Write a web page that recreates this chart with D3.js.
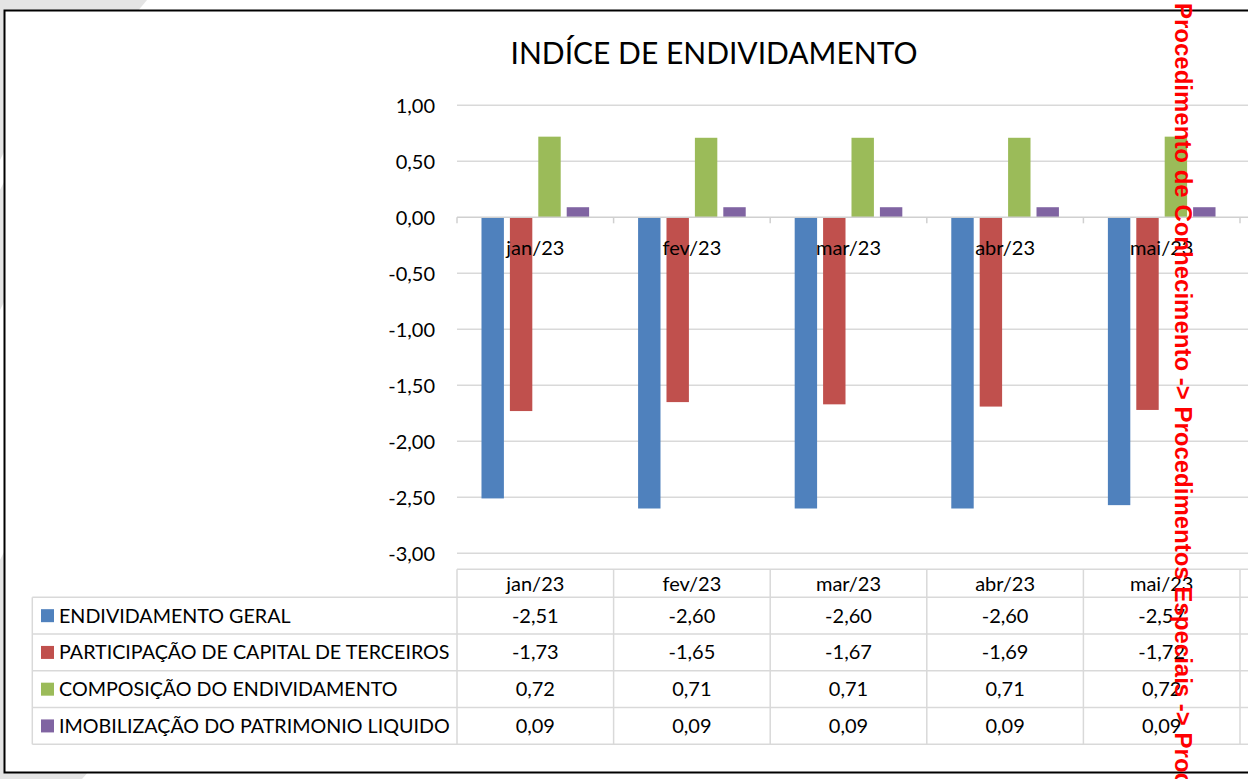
<!DOCTYPE html>
<html>
<head>
<meta charset="utf-8">
<script src="https://cdn.jsdelivr.net/npm/d3@7"></script>
<style>
  html, body { margin: 0; padding: 0; background: #ffffff; }
  svg { display: block; }
  text { font-family: Lato, "Open Sans", sans-serif; fill: #000; }
</style>
</head>
<body>
<svg id="chart" width="1248" height="779"></svg>
<script>
// Monthly debt indicators
const categories = ["jan/23", "fev/23", "mar/23", "abr/23", "mai/23"];
const seriesNames = [
  "ENDIVIDAMENTO GERAL",
  "PARTICIPAÇÃO DE CAPITAL DE TERCEIROS",
  "COMPOSIÇÃO DO ENDIVIDAMENTO",
  "IMOBILIZAÇÃO DO PATRIMONIO LIQUIDO"
];
const endividamentoGeral = [-2.51, -2.60, -2.60, -2.60, -2.57];
const participacaoCapitalTerceiros = [-1.73, -1.65, -1.67, -1.69, -1.72];
const composicaoEndividamento = [0.72, 0.71, 0.71, 0.71, 0.72];
const imobilizacaoPatrimonio = [0.09, 0.09, 0.09, 0.09, 0.09];
const yTicks = [1, 0.5, 0, -0.5, -1, -1.5, -2, -2.5, -3];
const colors = ["#4F81BD", "#C0504D", "#9BBB59", "#8064A2"];
const title = "INDÍCE DE ENDIVIDAMENTO";
const sideNote = "Procedimento de Conhecimento -> Procedimentos Especiais -> Proc";

const seriesValues = [endividamentoGeral, participacaoCapitalTerceiros, composicaoEndividamento, imobilizacaoPatrimonio];
const fmt = v => d3.format(".2f")(v).replace(".", ",").replace("−", "-");

const W = 1248, H = 779;
const svg = d3.select("#chart");

// faint page decoration behind the frame
const deco = svg.append("g").attr("fill", "#e4e4e4");
deco.append("polygon").attr("points", "0,0 147,0 137,12 0,12");
deco.append("polygon").attr("points", "0,0 5,0 5,150 0,160");
deco.append("polygon").attr("points", "0,190 5,180 5,300 0,310");
deco.append("polygon").attr("points", "0,560 5,550 5,779 0,779");
deco.append("polygon").attr("points", "0,770 90,770 82,779 0,779");

// chart frame
svg.append("rect")
  .attr("x", 4.5).attr("y", 10.5)
  .attr("width", W + 20).attr("height", 762)
  .attr("fill", "#fff").attr("stroke", "#000").attr("stroke-width", 2);

// title
svg.append("text")
  .attr("x", 714).attr("y", 64)
  .attr("text-anchor", "middle")
  .style("font-size", "30px")
  .text(title);

// scales
const plotLeft = 457, bandW = 156.6;
const x0 = d3.scaleBand()
  .domain(categories)
  .range([plotLeft, plotLeft + bandW * categories.length])
  .paddingInner(0).paddingOuter(0);
const x1 = d3.scaleBand()
  .domain(seriesNames)
  .range([0, x0.bandwidth()])
  .paddingInner(0.211).paddingOuter(0.862);
const y = d3.scaleLinear().domain([-3, 1]).range([553.3, 105.3]);

// gridlines
const grid = svg.append("g");
grid.selectAll("line").data(yTicks.filter(t => t !== 0)).join("line")
  .attr("x1", plotLeft).attr("x2", W)
  .attr("y1", d => y(d)).attr("y2", d => y(d))
  .attr("stroke", "#d9d9d9").attr("stroke-width", 1.5);

// y axis labels
const yAxis = d3.axisLeft(y).tickValues(yTicks).tickFormat(fmt).tickSize(0).tickPadding(0);
const yg = svg.append("g").attr("transform", "translate(435,0)").call(yAxis);
yg.select(".domain").remove();
yg.selectAll("text")
  .attr("dy", "0.35em")
  .style("font-family", "Lato, sans-serif")
  .style("font-size", "20px")
  .attr("fill", "#000");

// bars
const groups = svg.append("g").selectAll("g")
  .data(categories).join("g")
  .attr("transform", d => `translate(${x0(d)},0)`);
groups.selectAll("rect")
  .data((d, i) => seriesNames.map((s, k) => ({ s, k, v: seriesValues[k][i] })))
  .join("rect")
  .attr("x", d => x1(d.s))
  .attr("width", x1.bandwidth())
  .attr("y", d => y(Math.max(0, d.v)))
  .attr("height", d => Math.abs(y(d.v) - y(0)))
  .attr("fill", d => colors[d.k]);

// zero axis with category ticks
const xAxis = d3.axisBottom(x0).tickSize(0).tickPadding(0);
const xg = svg.append("g").attr("transform", `translate(0,${y(0)})`).call(xAxis);
xg.select(".domain").remove();
xg.selectAll("text")
  .attr("y", 38).attr("dy", 0)
  .style("font-family", "Lato, sans-serif")
  .style("font-size", "20px")
  .attr("fill", "#000");
svg.append("line")
  .attr("x1", plotLeft).attr("x2", W)
  .attr("y1", y(0)).attr("y2", y(0))
  .attr("stroke", "#d0d0d0").attr("stroke-width", 1.5);
const bounds = categories.map(c => x0(c)).concat([x0.range()[1]]);
svg.append("g").selectAll("line").data(bounds).join("line")
  .attr("x1", d => d).attr("x2", d => d)
  .attr("y1", y(0)).attr("y2", y(0) + 6)
  .attr("stroke", "#d0d0d0").attr("stroke-width", 1.5);

// data table
const headTop = 569.3, rowTop = 597.3, rowH = 36.75, legendLeft = 32.3;
const rowY = i => rowTop + i * rowH;
const table = svg.append("g");
const lineColor = "#d9d9d9";
table.append("line")
  .attr("x1", plotLeft).attr("x2", W).attr("y1", headTop).attr("y2", headTop)
  .attr("stroke", lineColor).attr("stroke-width", 1.5);
table.selectAll("line.h").data(d3.range(seriesNames.length + 1)).join("line")
  .attr("class", "h")
  .attr("x1", legendLeft).attr("x2", W)
  .attr("y1", d => rowY(d)).attr("y2", d => rowY(d))
  .attr("stroke", lineColor).attr("stroke-width", 1.5);
table.append("line")
  .attr("x1", legendLeft).attr("x2", legendLeft)
  .attr("y1", rowTop).attr("y2", rowY(seriesNames.length))
  .attr("stroke", lineColor).attr("stroke-width", 1.5);
table.selectAll("line.v").data(bounds).join("line")
  .attr("class", "v")
  .attr("x1", d => d).attr("x2", d => d)
  .attr("y1", headTop).attr("y2", rowY(seriesNames.length))
  .attr("stroke", lineColor).attr("stroke-width", 1.5);

// header row
table.selectAll("text.head").data(categories).join("text")
  .attr("class", "head")
  .attr("x", d => x0(d) + x0.bandwidth() / 2)
  .attr("y", headTop + 22)
  .attr("text-anchor", "middle")
  .style("font-size", "20px")
  .text(d => d);

// legend column
const leg = table.selectAll("g.leg").data(seriesNames).join("g").attr("class", "leg");
leg.append("rect")
  .attr("x", 41).attr("width", 13).attr("height", 13)
  .attr("y", (d, i) => rowY(i) + rowH / 2 - 6.5)
  .attr("fill", (d, i) => colors[i]);
leg.append("text")
  .attr("x", 59)
  .attr("y", (d, i) => rowY(i) + rowH / 2 + 7)
  .style("font-size", "19.7px")
  .text(d => d);

// values
seriesNames.forEach((s, k) => {
  table.append("g").selectAll("text").data(categories).join("text")
    .attr("x", d => x0(d) + x0.bandwidth() / 2)
    .attr("y", rowY(k) + rowH / 2 + 7)
    .attr("text-anchor", "middle")
    .style("font-size", "20px")
    .text((d, i) => fmt(seriesValues[k][i]));
});

// vertical breadcrumb note
svg.append("text")
  .attr("transform", "translate(1175,3) rotate(90)")
  .style("font-family", "'Liberation Sans', Arial, sans-serif")
  .style("font-weight", "bold")
  .style("font-size", "24px")
  .style("fill", "#ff0000")
  .text(sideNote);
</script>
</body>
</html>
